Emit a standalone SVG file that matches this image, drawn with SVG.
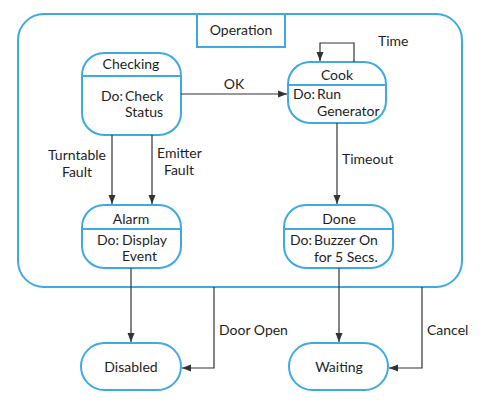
<svg xmlns="http://www.w3.org/2000/svg" width="492" height="408" viewBox="0 0 492 408">
<defs>
<marker id="arr" markerWidth="10" markerHeight="8" refX="9" refY="4" orient="auto" markerUnits="userSpaceOnUse">
<path d="M0,0.5 L9,4 L0,7.5 Z" fill="#333"/>
</marker>
<style>
.st{fill:#fff;stroke:#3fa9e2;stroke-width:2}
.ln{fill:none;stroke:#3fa9e2;stroke-width:2}
.cn{fill:none;stroke:#333;stroke-width:1.2}
text{font-family:Lato,"Open Sans",sans-serif;font-size:14px;fill:#1e1e1e}
.c{text-anchor:middle}
</style>
</defs>
<rect width="492" height="408" fill="#fff"/>
<g id="operation">
<rect class="st" x="18" y="14" width="444" height="273" rx="26"/>
<rect class="st" x="197" y="14" width="88" height="33"/>
<text class="c" x="241" y="35">Operation</text>
</g>
<g id="checking">
<rect class="st" x="82" y="53" width="99" height="82" rx="22"/>
<line class="ln" x1="82" y1="76" x2="181" y2="76"/>
<text class="c" x="131" y="69">Checking</text>
<text x="101" y="101">Do:</text>
<text x="125" y="101">Check</text>
<text x="125" y="117">Status</text>
</g>
<g id="cook">
<rect class="st" x="288" y="62" width="98" height="61" rx="22"/>
<line class="ln" x1="288" y1="85" x2="386" y2="85"/>
<text class="c" x="337" y="80">Cook</text>
<text x="293" y="99">Do:</text>
<text x="317" y="99">Run</text>
<text x="317" y="116">Generator</text>
</g>
<g id="alarm">
<rect class="st" x="82" y="205" width="99" height="63" rx="22"/>
<line class="ln" x1="82" y1="229" x2="181" y2="229"/>
<text class="c" x="131" y="224">Alarm</text>
<text x="97" y="245">Do:</text>
<text x="122" y="245">Display</text>
<text x="122" y="261">Event</text>
</g>
<g id="done">
<rect class="st" x="284" y="205" width="109" height="63" rx="22"/>
<line class="ln" x1="284" y1="229" x2="393" y2="229"/>
<text class="c" x="339" y="224">Done</text>
<text x="290" y="245">Do:</text>
<text x="314" y="245">Buzzer On</text>
<text x="314" y="262">for 5 Secs.</text>
</g>
<g id="disabled">
<rect class="st" x="81" y="343" width="100" height="47" rx="23.5"/>
<text class="c" x="131" y="372">Disabled</text>
</g>
<g id="waiting">
<rect class="st" x="289" y="343" width="99" height="47" rx="23.5"/>
<text class="c" x="339" y="372">Waiting</text>
</g>
<g id="connectors">
<line class="cn" x1="181" y1="94" x2="287" y2="94" marker-end="url(#arr)"/>
<text class="c" x="234" y="89">OK</text>
<polyline class="cn" points="354,62 354,43 320,43 320,61" marker-end="url(#arr)"/>
<text x="378" y="46">Time</text>
<line class="cn" x1="112" y1="135" x2="112" y2="204" marker-end="url(#arr)"/>
<text class="c" x="77" y="160">Turntable</text>
<text class="c" x="77" y="177">Fault</text>
<line class="cn" x1="152" y1="135" x2="152" y2="204" marker-end="url(#arr)"/>
<text x="157" y="158">Emitter</text>
<text class="c" x="179" y="175">Fault</text>
<line class="cn" x1="337" y1="123" x2="337" y2="204" marker-end="url(#arr)"/>
<text x="342" y="164">Timeout</text>
<line class="cn" x1="131" y1="268" x2="131" y2="342" marker-end="url(#arr)"/>
<line class="cn" x1="339" y1="268" x2="339" y2="342" marker-end="url(#arr)"/>
<polyline class="cn" points="214,287 214,368 182,368" marker-end="url(#arr)"/>
<text x="219" y="335">Door Open</text>
<polyline class="cn" points="422,287 422,368 389,368" marker-end="url(#arr)"/>
<text x="427" y="335">Cancel</text>
</g>
</svg>
